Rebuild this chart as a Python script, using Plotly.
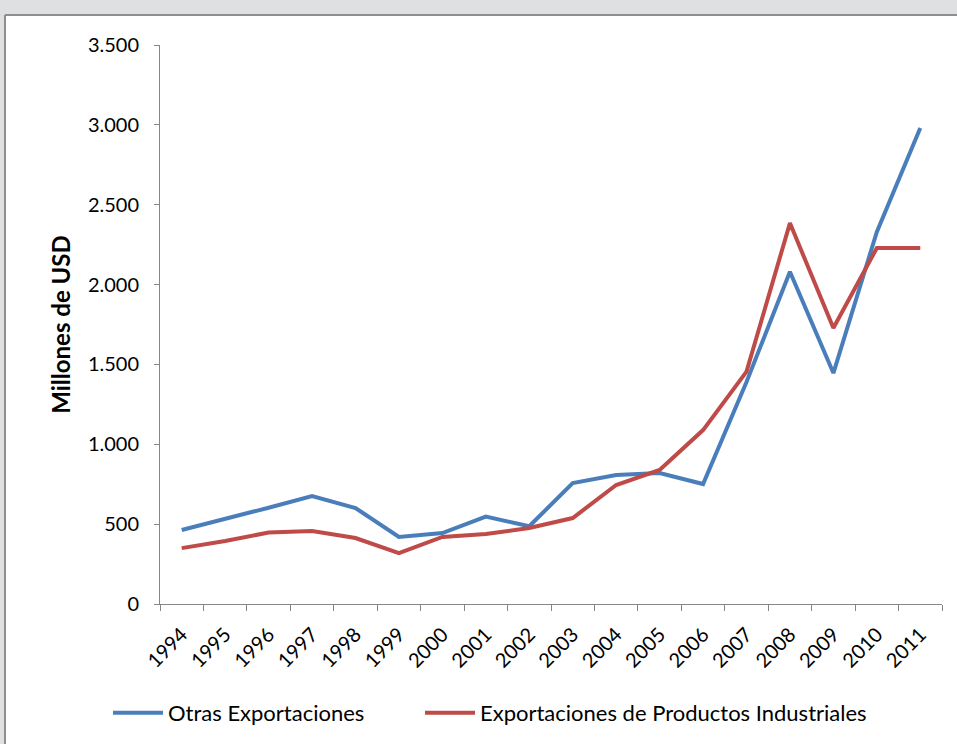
import plotly.graph_objects as go

years = [str(y) for y in range(1994, 2012)]
otras = [463, 530, 603, 676, 601, 420, 444, 547, 487, 757, 807, 820, 751, 1390, 2080, 1446, 2330, 2980]
industriales = [350, 394, 448, 457, 413, 319, 420, 438, 476, 538, 745, 839, 1089, 1455, 2385, 1728, 2229, 2229]
names = ["Otras Exportaciones", "Exportaciones de Productos Industriales"]
colors = ["#4A7EBB", "#BE4B48"]
y_title = "Millones de USD"

W, H = 957, 744
L, R, T, B = 160, 15, 45, 140
pw, ph = W - L - R, H - T - B

def px(x):
    return (x - L) / pw

def py(y):
    return (H - B - y) / ph

fig = go.Figure()
for vals, name, col, lg in zip([otras, industriales], names, colors, ["legend", "legend2"]):
    fig.add_trace(go.Scatter(x=years, y=vals, name=name, mode="lines", legend=lg,
                             line=dict(color=col, width=4)))

bg = "#DFE0E2"
border = "#8E8E8E"
leg_common = dict(orientation="h", xanchor="left", yanchor="middle", y=py(713),
                  font=dict(size=22), bgcolor="rgba(0,0,0,0)", itemwidth=50)
fig.update_layout(
    width=W, height=H,
    margin=dict(l=L, r=R, t=T, b=B, autoexpand=False),
    paper_bgcolor=bg,
    plot_bgcolor="white",
    separators=",.",
    font=dict(family="Lato", size=19, color="#000000"),
    showlegend=True,
    legend=dict(x=px(108), **leg_common),
    legend2=dict(x=px(420), **leg_common),
    shapes=[
        dict(type="rect", xref="paper", yref="paper",
             x0=px(5), x1=px(W), y0=py(H), y1=py(15),
             fillcolor="white", line=dict(width=0), layer="below"),
        dict(type="line", xref="paper", yref="paper",
             x0=px(5), x1=px(W), y0=py(15), y1=py(15),
             line=dict(color=border, width=2), layer="below"),
        dict(type="line", xref="paper", yref="paper",
             x0=px(5), x1=px(5), y0=py(H), y1=py(15),
             line=dict(color=border, width=2), layer="below"),
    ],
)
fig.update_xaxes(type="category", range=[-0.5, len(years) - 0.5], showgrid=False, showline=True,
                 linecolor="#868686", linewidth=1,
                 ticks="outside", tickson="boundaries", ticklen=6, tickcolor="#868686",
                 tickangle=-45, tickfont=dict(size=20), ticklabelstandoff=10, automargin=False)
fig.update_yaxes(range=[0, 3500], dtick=500, tickformat=",d", showgrid=False, zeroline=False,
                 showline=True, linecolor="#868686", linewidth=1, ticks="outside", ticklen=5,
                 tickcolor="#868686", tickfont=dict(size=20), ticklabelstandoff=11, automargin=False,
                 title=dict(text="<b>" + y_title + "</b>", font=dict(size=24), standoff=10))

fig.write_html("out.html", config=dict(displayModeBar=False),
               post_script="document.body.style.margin='0';document.body.style.overflow='hidden';")
